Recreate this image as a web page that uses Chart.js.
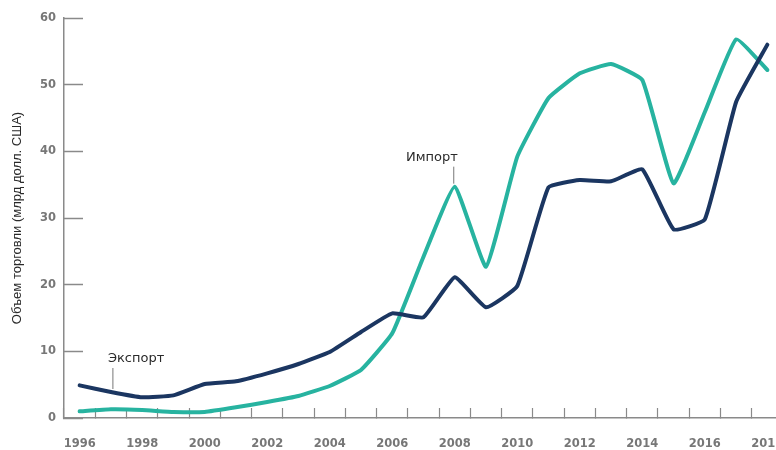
<!DOCTYPE html>
<html>
<head>
<meta charset="utf-8">
<script src="https://cdn.jsdelivr.net/npm/chart.js@4.4.1/dist/chart.umd.min.js"></script>
<style>
  html, body { margin: 0; padding: 0; background: #fff; overflow: hidden; }
  #wrap { position: absolute; left: 0; top: 0; width: 783px; height: 462px; }
</style>
</head>
<body>
<div id="wrap"><canvas id="trade" width="783" height="462"></canvas></div>
<script>
// years on the x axis
const years = ['1996','1997','1998','1999','2000','2001','2002','2003','2004','2005','2006',
  '2007','2008','2009','2010','2011','2012','2013','2014','2015','2016','2017','2018']

// trade volume, bn USD
const exportValues = [4.9, 3.9, 3.1, 3.4, 5.1, 5.5, 6.7, 8.1, 9.9, 12.9, 15.7,
  15.1, 21.1, 16.6, 19.8, 34.6, 35.7, 35.5, 37.3, 28.3, 29.8, 47.4, 56.0]
const importValues = [1.0, 1.3, 1.2, 0.9, 0.9, 1.6, 2.4, 3.3, 4.8, 7.2, 12.7,
  24.2, 34.7, 22.7, 39.2, 48.0, 51.7, 53.1, 50.7, 35.2, 45.9, 56.8, 52.2]

const yTicks = [0, 10, 20, 30, 40, 50, 60]
const yTitle = 'Объем торговли (млрд долл. США)'

// little callout labels hanging off one point of each line
const callouts = [
  {text: 'Экспорт', dataset: 0, year: '1997', lift: 24, dx: -5, align: 'left'},
  {text: 'Импорт', dataset: 1, year: '2008', lift: 20, dx: 4, align: 'right'}
]

const navy = '#1b3661'
const teal = '#27b3a0'
const axisGrey = '#8a8a8a'
const tickFont = {family: 'DejaVu Sans', size: 11.5, weight: 'bold'}

const calloutPlugin = {
  id: 'callouts',
  afterDatasetsDraw(chart) {
    const ctx = chart.ctx
    callouts.forEach(c => {
      const pt = chart.getDatasetMeta(c.dataset).data[years.indexOf(c.year)]
      const x = pt.x + (c.align === 'left' ? 2 : -1)
      const yTop = pt.y - c.lift
      ctx.save()
      ctx.strokeStyle = '#777'
      ctx.lineWidth = 1
      ctx.beginPath()
      ctx.moveTo(x, pt.y - 3)
      ctx.lineTo(x, yTop)
      ctx.stroke()
      ctx.fillStyle = '#2a2a2a'
      ctx.font = '13px "DejaVu Sans"'
      ctx.textAlign = c.align
      ctx.textBaseline = 'alphabetic'
      ctx.fillText(c.text, x + c.dx, yTop - 6)
      ctx.restore()
    })
  }
}

new Chart(document.getElementById('trade'), {
  type: 'line',
  data: {
    labels: years,
    datasets: [
      {label: 'Экспорт', data: exportValues, borderColor: navy, backgroundColor: navy,
        borderWidth: 4, pointRadius: 0, tension: 0.12, borderJoinStyle: 'round', borderCapStyle: 'round'},
      {label: 'Импорт', data: importValues, borderColor: teal, backgroundColor: teal,
        borderWidth: 4, pointRadius: 0, tension: 0.12, borderJoinStyle: 'round', borderCapStyle: 'round'}
    ]
  },
  options: {
    responsive: false,
    animation: false,
    devicePixelRatio: 1,
    layout: {padding: {top: 18, left: 0, right: 0, bottom: 0}},
    plugins: {legend: {display: false}, tooltip: {enabled: false}},
    scales: {
      x: {
        type: 'category',
        offset: true,
        grid: {offset: true, drawOnChartArea: false, tickLength: -10, tickColor: axisGrey, tickWidth: 1.2},
        border: {color: axisGrey, width: 1.5},
        ticks: {
          autoSkip: false, maxRotation: 0, padding: 29, color: '#777', font: tickFont,
          callback: function(v, i) { return Number(years[i]) % 2 === 0 ? years[i] : '' }
        },
        afterFit(scale) {
          scale.height = 44
          scale.paddingLeft = 0
          scale.paddingRight = 0
        }
      },
      y: {
        min: 0, max: 60,
        afterBuildTicks(scale) { scale.ticks = yTicks.map(v => ({value: v})) },
        grid: {drawOnChartArea: false, tickLength: -19, tickColor: axisGrey, tickWidth: 1.5},
        border: {color: axisGrey, width: 1.5},
        ticks: {padding: 27, color: '#777', font: tickFont},
        title: {display: true, text: yTitle, color: '#2a2a2a',
          font: {family: 'Liberation Sans', size: 13}, padding: {top: 10, bottom: 0}},
        afterFit(scale) {
          scale.width = 64
          scale.paddingTop = 0
          scale.paddingBottom = 0
        }
      }
    }
  },
  plugins: [calloutPlugin]
})
</script>
</body>
</html>
